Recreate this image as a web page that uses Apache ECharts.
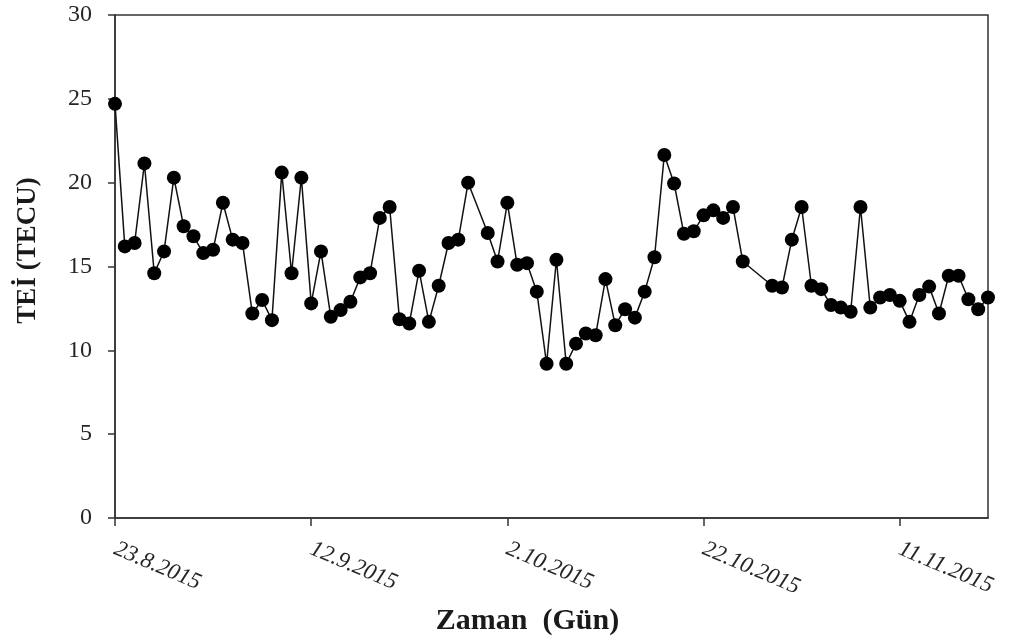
<!DOCTYPE html>
<html>
<head>
<meta charset="utf-8">
<title>TEİ (TECU)</title>
<script src="https://cdn.jsdelivr.net/npm/echarts@6/dist/echarts.min.js"></script>
<style>
  html, body { margin: 0; padding: 0; background: #ffffff; }
  #chart { width: 1016px; height: 643px; }
</style>
</head>
<body>
<div id="chart"></div>
<script>
// Daily TEI observations (dates are d.m.yyyy); a few days have no value
const dates = [
  '23.8.2015','24.8.2015','25.8.2015','26.8.2015','27.8.2015','28.8.2015','29.8.2015','30.8.2015','31.8.2015',
  '1.9.2015','2.9.2015','3.9.2015','4.9.2015','5.9.2015','6.9.2015','7.9.2015','8.9.2015','9.9.2015','10.9.2015',
  '11.9.2015','12.9.2015','13.9.2015','14.9.2015','15.9.2015','16.9.2015','17.9.2015','18.9.2015','19.9.2015',
  '20.9.2015','21.9.2015','22.9.2015','23.9.2015','24.9.2015','25.9.2015','26.9.2015','27.9.2015','28.9.2015',
  '30.9.2015','1.10.2015','2.10.2015','3.10.2015','4.10.2015','5.10.2015','6.10.2015','7.10.2015','8.10.2015',
  '9.10.2015','10.10.2015','11.10.2015','12.10.2015','13.10.2015','14.10.2015','15.10.2015','16.10.2015',
  '17.10.2015','18.10.2015','19.10.2015','20.10.2015','21.10.2015','22.10.2015','23.10.2015','24.10.2015',
  '25.10.2015','26.10.2015','29.10.2015','30.10.2015','31.10.2015','1.11.2015','2.11.2015','3.11.2015',
  '4.11.2015','5.11.2015','6.11.2015','7.11.2015','8.11.2015','9.11.2015','10.11.2015','11.11.2015',
  '12.11.2015','13.11.2015','14.11.2015','15.11.2015','16.11.2015','17.11.2015','18.11.2015','19.11.2015',
  '20.11.2015'
];

const tei = [
  24.7, 16.2, 16.4, 21.15, 14.6, 15.9, 20.3, 17.4, 16.8,
  15.8, 16.0, 18.8, 16.6, 16.4, 12.2, 13.0, 11.8, 20.6, 14.6,
  20.3, 12.8, 15.9, 12.0, 12.4, 12.9, 14.35, 14.6, 17.9,
  18.55, 11.85, 11.6, 14.75, 11.7, 13.85, 16.4, 16.6, 20.0,
  17.0, 15.3, 18.8, 15.1, 15.2, 13.5, 9.2, 15.4, 9.2,
  10.4, 11.0, 10.9, 14.25, 11.5, 12.45, 11.95, 13.5,
  15.55, 21.65, 19.95, 16.95, 17.1, 18.05, 18.35, 17.9,
  18.55, 15.3, 13.85, 13.75, 16.6, 18.55, 13.85, 13.65,
  12.7, 12.55, 12.3, 18.55, 12.55, 13.15, 13.3, 12.95,
  11.7, 13.3, 13.8, 12.2, 14.45, 14.45, 13.05, 12.45,
  13.15
];

// Date labels shown under the axis ticks
const tickLabels = ['23.8.2015', '12.9.2015', '2.10.2015', '22.10.2015', '11.11.2015'];
const yTicks = [0, 5, 10, 15, 20, 25, 30];

const DAY = 86400000;
function parseDate(s) {
  const p = s.split('.').map(Number);
  return Date.UTC(p[2], p[1] - 1, p[0]);
}
const t0 = parseDate(dates[0]);
const dayOf = s => Math.round((parseDate(s) - t0) / DAY);
const tickDays = tickLabels.map(dayOf);
const lastDay = dayOf(dates[dates.length - 1]);
const labelByDay = {};
tickLabels.forEach((l, i) => { labelByDay[tickDays[i]] = l; });

const points = dates.map((d, i) => [dayOf(d), tei[i]]);

const chart = echarts.init(document.getElementById('chart'), null, { renderer: 'canvas' });
const serif = '"Liberation Serif", "DejaVu Serif", serif';
const axisColor = '#333333';

chart.setOption({
  backgroundColor: '#ffffff',
  animation: false,
  grid: {
    left: 115, right: 28, top: 15, bottom: 125,
    show: true, borderColor: axisColor, borderWidth: 1.5, backgroundColor: 'transparent'
  },
  xAxis: {
    type: 'value',
    min: 0,
    max: lastDay,
    interval: 20,
    name: 'Zaman  (Gün)',
    nameLocation: 'middle',
    nameGap: 88,
    nameTextStyle: {
      fontFamily: serif, fontSize: 30, fontWeight: 'bold', color: '#1a1a1a',
      padding: [0, 48, 0, 0]
    },
    axisLine: { show: true, onZero: false, lineStyle: { color: axisColor, width: 1.5 } },
    axisTick: { show: true, inside: false, length: 8, customValues: tickDays, lineStyle: { color: axisColor, width: 1.5 } },
    axisLabel: {
      customValues: tickDays,
      formatter: v => labelByDay[v] || '',
      rotate: -23,
      margin: 30,
      fontFamily: serif,
      fontStyle: 'italic',
      fontSize: 23,
      color: '#262626'
    },
    splitLine: { show: false }
  },
  yAxis: {
    type: 'value',
    min: yTicks[0],
    max: yTicks[yTicks.length - 1],
    interval: 5,
    name: 'TEİ (TECU)',
    nameLocation: 'middle',
    nameGap: 73,
    nameTextStyle: {
      fontFamily: serif, fontSize: 27, fontWeight: 'bold', color: '#1a1a1a',
      padding: [0, 0, 0, 32]
    },
    axisLine: { show: true, lineStyle: { color: axisColor, width: 1.5 } },
    axisTick: { show: true, inside: false, length: 7, lineStyle: { color: axisColor, width: 1.5 } },
    axisLabel: { fontFamily: serif, fontSize: 24, color: '#262626', margin: 23 },
    splitLine: { show: false }
  },
  series: [{
    type: 'line',
    data: points,
    symbol: 'circle',
    symbolSize: 14,
    itemStyle: { color: '#000000' },
    lineStyle: { color: '#111111', width: 1.5 },
    emphasis: { disabled: true }
  }]
});
</script>
</body>
</html>
